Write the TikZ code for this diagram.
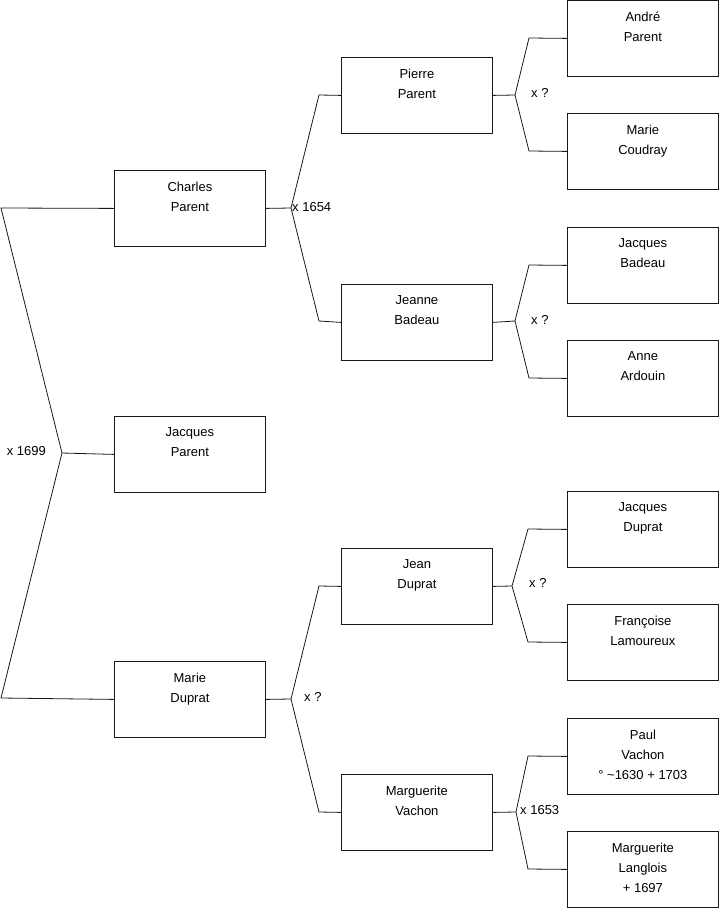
\documentclass[tikz,border=0pt]{standalone}
\usepackage{fontspec}
\setmainfont{Liberation Sans}
\newcommand{\bx}[1]{\parbox[c][76pt][t]{151pt}{\centering\vspace*{11.5pt}#1\par}}
\tikzset{
  person/.style={draw=black!90, line width=0.8pt, inner sep=0pt, minimum width=151pt, minimum height=76pt, anchor=north west, font=\fontsize{13}{20}\selectfont},
  conn/.style={draw=black!90, line width=0.8pt},
  lbl/.style={inner sep=0pt, font=\fontsize{13}{15}\selectfont}
}
\begin{document}
\begin{tikzpicture}[x=1pt,y=-1pt]
\useasboundingbox (0,0) rectangle (719,908);
% generation 1
\node[person] (charles) at (114,170) {\bx{Charles\\Parent}};
\node[person] (jacquesp) at (114,416) {\bx{Jacques\\Parent}};
\node[person] (marie) at (114,661) {\bx{Marie\\Duprat}};
% generation 2
\node[person] (pierre) at (341,57) {\bx{Pierre\\Parent}};
\node[person] (jeanne) at (341,284) {\bx{Jeanne\\Badeau}};
\node[person] (jean) at (341,548) {\bx{Jean\\Duprat}};
\node[person] (margv) at (341,774) {\bx{Marguerite\\Vachon}};
% generation 3
\node[person] (andre) at (567,0) {\bx{André\\Parent}};
\node[person] (mariec) at (567,113) {\bx{Marie\\Coudray}};
\node[person] (jacquesb) at (567,227) {\bx{Jacques\\Badeau}};
\node[person] (anne) at (567,340) {\bx{Anne\\Ardouin}};
\node[person] (jacquesd) at (567,491) {\bx{Jacques\\Duprat}};
\node[person] (francoise) at (567,604) {\bx{Françoise\\Lamoureux}};
\node[person] (paul) at (567,718) {\bx{Paul\\Vachon\\° \textasciitilde1630 + 1703}};
\node[person] (margl) at (567,831) {\bx{Marguerite\\Langlois\\+ 1697}};
% left bracket
\coordinate (v0) at (62,453);
\coordinate (a0) at (1,208);
\coordinate (b0) at (1,698);
\draw[conn] (charles.west) -- (a0) -- (v0) -- (jacquesp.west);
\draw[conn] (v0) -- (b0) -- (marie.west);
\node[lbl, anchor=east] (l0) at (46,451) {x 1699};
% Charles
\coordinate (v1) at (291,208);
\coordinate (a1) at (319,95);
\coordinate (b1) at (319,321);
\draw[conn] (charles.east) -- (v1) -- (a1) -- (pierre.west);
\draw[conn] (v1) -- (b1) -- (jeanne.west);
\node[lbl, anchor=west] (l1) at (292,207) {x 1654};
% Marie
\coordinate (v2) at (291,699);
\coordinate (a2) at (319,586);
\coordinate (b2) at (319,812);
\draw[conn] (marie.east) -- (v2) -- (a2) -- (jean.west);
\draw[conn] (v2) -- (b2) -- (margv.west);
\node[lbl, anchor=west] (l2) at (304,697) {x ?};
% Pierre
\coordinate (v3) at (515,95);
\coordinate (a3) at (529,38);
\coordinate (b3) at (529,151);
\draw[conn] (pierre.east) -- (v3) -- (a3) -- (andre.west);
\draw[conn] (v3) -- (b3) -- (mariec.west);
\node[lbl, anchor=west] (l3) at (531,93) {x ?};
% Jeanne
\coordinate (v4) at (515,321);
\coordinate (a4) at (529,265);
\coordinate (b4) at (529,378);
\draw[conn] (jeanne.east) -- (v4) -- (a4) -- (jacquesb.west);
\draw[conn] (v4) -- (b4) -- (anne.west);
\node[lbl, anchor=west] (l4) at (531,320) {x ?};
% Jean
\coordinate (v5) at (512,586);
\coordinate (a5) at (528,529);
\coordinate (b5) at (528,642);
\draw[conn] (jean.east) -- (v5) -- (a5) -- (jacquesd.west);
\draw[conn] (v5) -- (b5) -- (francoise.west);
\node[lbl, anchor=west] (l5) at (529,583) {x ?};
% Marguerite Vachon
\coordinate (v6) at (516,812);
\coordinate (a6) at (528,756);
\coordinate (b6) at (528,869);
\draw[conn] (margv.east) -- (v6) -- (a6) -- (paul.west);
\draw[conn] (v6) -- (b6) -- (margl.west);
\node[lbl, anchor=west] (l6) at (520,810) {x 1653};
\end{tikzpicture}
\end{document}
